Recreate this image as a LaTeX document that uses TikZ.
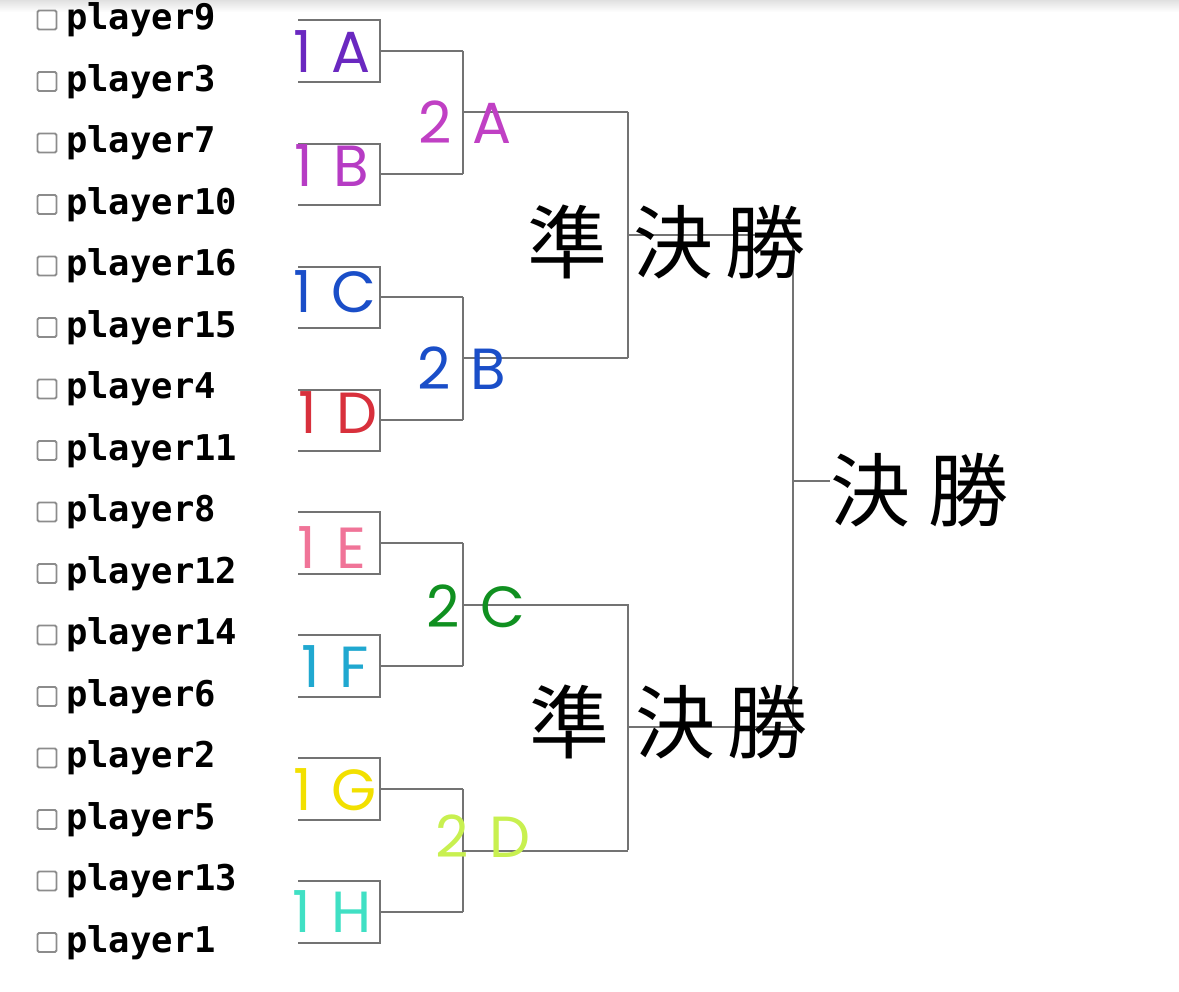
\documentclass[tikz,border=0pt]{standalone}
\usepackage{fontspec}
\setmonofont{DejaVu Sans Mono}
\newfontfamily\cjk{Noto Sans CJK JP}
\newfontfamily\lab{Poppins}
\begin{document}
\begin{tikzpicture}[x=1pt,y=-1pt,
  br/.style={draw=black!55,line width=2pt},
  pl/.style={anchor=west,font=\ttfamily\bfseries\fontsize{35.5}{35.5}\selectfont,inner sep=0pt},
  cb/.style={draw=black!45,line width=1.8pt,minimum size=19pt,inner sep=0pt,rounded corners=1.5pt},
  lb/.style={font=\lab\fontsize{58}{58}\selectfont,inner sep=0pt},
  kj/.style={font=\cjk\fontsize{80}{80}\selectfont,inner sep=0pt}]
\useasboundingbox (0,0) rectangle (1179,992);
\fill[top color=black!12,bottom color=white] (0,0) rectangle (1179,12);
% players
\foreach \n [count=\i from 0] in {9,3,7,10,16,15,4,11,8,12,14,6,2,5,13,1}{
  \pgfmathsetmacro\yy{20+61.5*\i}
  \node[cb] (c\i) at (47,\yy) {};
  \node[pl] (p\i) at (66,\yy) {player\n};
}
% round 1
\foreach \a/\b [count=\k from 0] in {20/82,144/205,267/328,390/451,512/574,635/697,758/820,881/943}{
  \draw[br] (298,\a) -- (380,\a) -- (380,\b) -- (298,\b);
  \pgfmathsetmacro\m{(\a+\b)/2}
  \draw[br] (380,\m) -- (463,\m);
}
% round 2
\foreach \a/\b in {51/174,297/420,543/666,789/912}{
  \draw[br] (463,\a) -- (463,\b);
  \pgfmathsetmacro\m{(\a+\b)/2}
  \draw[br] (463,\m) -- (628,\m);
}
\draw[br] (628,112) -- (628,358); \draw[br] (628,235) -- (793,235);
\draw[br] (628,604) -- (628,850); \draw[br] (628,727) -- (793,727);
\draw[br] (793,235) -- (793,727); \draw[br] (793,481) -- (830,481);
% labels
\definecolor{cA}{HTML}{6A28C0}\definecolor{cB}{HTML}{B63CC4}\definecolor{c2A}{HTML}{C040C4}
\definecolor{cC}{HTML}{1A4EC8}\definecolor{cD}{HTML}{D8303C}\definecolor{cE}{HTML}{F07498}
\definecolor{cF}{HTML}{20A8D0}\definecolor{c2C}{HTML}{109020}\definecolor{cG}{HTML}{F2E000}
\definecolor{c2D}{HTML}{C8F050}\definecolor{cH}{HTML}{40E0C4}
\node[lb,text=cA] (l1a) at (332,52) {1\hspace{20pt}A};
\node[lb,text=cB] (l1b) at (332,166) {1\hspace{20pt}B};
\node[lb,text=c2A] (l2a) at (465,122) {2\hspace{20pt}A};
\node[lb,text=cC] (l1c) at (335,292) {1\hspace{20pt}C};
\node[lb,text=cD] (l1d) at (338,413) {1\hspace{20pt}D};
\node[lb,text=cC] (l2b) at (462,368) {2\hspace{20pt}B};
\node[lb,text=cE] (l1e) at (332,548) {1\hspace{20pt}E};
\node[lb,text=cF] (l1f) at (335,667) {1\hspace{20pt}F};
\node[lb,text=c2C] (l2c) at (476,606) {2\hspace{20pt}C};
\node[lb,text=cG] (l1g) at (335,790) {1\hspace{20pt}G};
\node[lb,text=c2D] (l2d) at (483,836) {2\hspace{20pt}D};
\node[lb,text=cH] (l1h) at (332,912) {1\hspace{20pt}H};
\node[kj] (sf1) at (666,242) {準\hspace{26pt}決\hspace{12pt}勝};
\node[kj] (sf2) at (668,722) {準\hspace{26pt}決\hspace{12pt}勝};
\node[kj] (fin) at (919,490) {決\hspace{18pt}勝};
\end{tikzpicture}
\end{document}
